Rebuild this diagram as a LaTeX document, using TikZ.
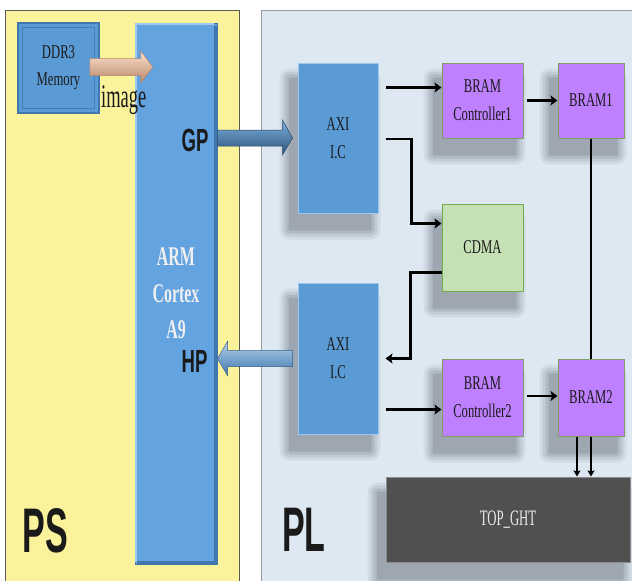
\documentclass[tikz,border=0pt]{standalone}
\usepackage{fontspec}
\usetikzlibrary{arrows.meta,calc}
\pgfdeclarelayer{bg}
\pgfsetlayers{bg,main}
\newfontfamily\boxfont[FakeStretch=0.65]{Liberation Serif}
\newfontfamily\armfont[FakeStretch=0.59]{Liberation Serif Bold}
\newfontfamily\topfont[FakeStretch=0.58]{Liberation Serif}
\newfontfamily\imgfont[FakeStretch=0.56]{Liberation Serif}
\newfontfamily\labfont[FakeStretch=0.58]{Liberation Sans Bold}
\newfontfamily\bigfont[FakeStretch=0.54]{Liberation Sans Bold}
\definecolor{psbg}{HTML}{FAF39B}
\definecolor{plbg}{HTML}{DEE8F3}
\definecolor{armblue}{HTML}{62A3E0}
\definecolor{armdark}{HTML}{3F77AE}
\definecolor{axiblue}{HTML}{5B9BD5}
\definecolor{axiedge}{HTML}{9CC8EE}
\definecolor{bramp}{HTML}{BF80FF}
\definecolor{brampedge}{HTML}{7F9F6A}
\definecolor{cdmag}{HTML}{C5E0B4}
\definecolor{cdmaedge}{HTML}{70AD47}
\definecolor{topg}{HTML}{505050}
\definecolor{ink}{HTML}{1A1A1A}
\definecolor{peachL}{HTML}{FCE2D2}
\definecolor{peachM}{HTML}{EDB08C}
\definecolor{peachD}{HTML}{B98566}
\definecolor{shadowc}{HTML}{2A323C}
\newcommand\mkshadow[1]{%
  \foreach \r/\o in {10/0.07,7/0.09,4/0.11,1/0.14}{%
    \fill[shadowc, opacity=\o, rounded corners=\r pt]
      ($(#1.north west)+(-8-\r,16-\r)$) rectangle ($(#1.south east)+(-8+\r,16+\r)$);}}
\tikzset{
  box/.style={draw, line width=1pt, inner sep=0pt, align=center,
    font=\boxfont\fontsize{19.5}{28}\selectfont, text=ink},
  conn/.style={line width=2.5pt, -{Stealth[length=7pt,width=10pt,inset=1.5pt]}},
  conn2/.style={line width=1.6pt, -{Stealth[length=6pt,width=7pt,inset=1pt]}},
  lab/.style={inner sep=0pt, font=\labfont\fontsize{32}{32}\selectfont, text=ink},
  big/.style={inner sep=0pt, font=\bigfont\fontsize{63}{63}\selectfont, text=ink},
}
\begin{document}
\begin{tikzpicture}[x=1pt,y=-1pt]
\useasboundingbox (0,0) rectangle (632,581);
\begin{pgfonlayer}{bg}
\fill[white] (0,0) rectangle (632,581);
\path[fill=psbg, draw=black!65, line width=1pt] (5,10) rectangle (239,600);
\path[fill=plbg, draw=black!40, line width=1pt] (261,10) rectangle (650,600);
\end{pgfonlayer}
% DDR3 and ARM
\node[box, fill=axiblue, draw=armdark, line width=1.5pt, minimum width=81pt, minimum height=90pt,
  font=\boxfont\fontsize{19.5}{27}\selectfont] (ddr) at (58.5,68) {DDR3\\Memory};
\draw[armdark!80!axiblue, line width=1pt] ($(ddr.north west)+(5,5)$) rectangle ($(ddr.south east)+(-5,-5)$);
\node[box, fill=armblue, draw=armdark, minimum width=82pt, minimum height=541pt,
  font=\armfont\fontsize{27}{36.5}\selectfont, text=black!6] (arm) at (176,293.5) {ARM\\Cortex\\A9};
\draw[armdark, line width=4pt] ($(arm.north east)+(-2,3)$) -- ($(arm.south east)+(-2,-2)$) -- ($(arm.south west)+(2,-2)$);
\draw[armblue!60!white, line width=2pt] ($(arm.south west)+(1,-3)$) -- ($(arm.north west)+(1,1)$) -- ($(arm.north east)+(-4,1)$);
\node[inner sep=0pt, anchor=base west, font=\imgfont\fontsize{33}{33}\selectfont, text=ink] (img) at (101,107) {image};
% DDR arrow
\coordinate (ddrtip) at ($(ddr.east)+(53,-1)$);
\shade[top color=peachL, middle color=peachM, bottom color=peachD, draw=peachD, line width=0.5pt]
  (ddrtip) -- +(-12,-16) -- +(-12,-8.5) -- +(-63,-8.5) -- +(-63,8.5) -- +(-12,8.5) -- +(-12,16) -- cycle;
% GP / HP / PS / PL labels
\node[lab] (gp) at (195,140) {GP};
\node[lab] (hp) at (194.5,361.5) {HP};
\node[big] (ps) at (45.5,531) {PS};
\node[big] (pl) at (304,530) {PL};
% PL boxes
\node[box, fill=axiblue, draw=axiedge, minimum width=80pt, minimum height=150pt] (axi1) at (338,138) {AXI\\I.C};
\node[box, fill=axiblue, draw=axiedge, minimum width=80pt, minimum height=151pt] (axi2) at (338,358.5) {AXI\\I.C};
\node[box, fill=bramp, draw=brampedge, minimum width=81pt, minimum height=75pt] (bc1) at (482.5,100.5) {BRAM\\Controller1};
\node[box, fill=bramp, draw=brampedge, minimum width=66pt, minimum height=75pt] (bram1) at (591,100.5) {BRAM1};
\node[box, fill=cdmag, draw=cdmaedge, minimum width=81pt, minimum height=87pt] (cdma) at (482.5,247.5) {CDMA};
\node[box, fill=bramp, draw=brampedge, minimum width=81pt, minimum height=77pt] (bc2) at (482.5,397.5) {BRAM\\Controller2};
\node[box, fill=bramp, draw=brampedge, minimum width=66pt, minimum height=77pt] (bram2) at (591,397.5) {BRAM2};
\node[box, fill=topg, draw=black!45, minimum width=244pt, minimum height=85pt,
  font=\topfont\fontsize{22}{22}\selectfont, text=black!8] (top) at (508,519.5) {TOP\_GHT};
\begin{pgfonlayer}{bg}
\mkshadow{axi1}\mkshadow{axi2}\mkshadow{bc1}\mkshadow{bram1}\mkshadow{cdma}\mkshadow{bc2}\mkshadow{bram2}\mkshadow{top}
\end{pgfonlayer}
% fat arrows
\coordinate (gp0) at (arm.east |- axi1.east);
\coordinate (gptip) at ($(gp0)+(75,0)$);
\shade[top color=axiblue!80!white, middle color=armdark, bottom color=armdark!70!black, draw=armdark!60!black, line width=0.5pt]
  (gptip) -- +(-10,-18) -- +(-10,-8) -- +(-75,-8) -- +(-75,8) -- +(-10,8) -- +(-10,17) -- cycle;
\coordinate (hp0) at (arm.east |- axi2.east);
\shade[top color=axiblue!45!white, middle color=axiblue, bottom color=armdark, draw=armdark!80!black, line width=0.5pt]
  (hp0) -- +(10,-17) -- +(10,-8) -- +(75,-8) -- +(75,8) -- +(10,8) -- +(10,17) -- cycle;
% connectors
\coordinate (a1) at ($(axi1.north east)+(7,25)$);
\draw[conn] (a1) -- (a1 -| bc1.west);
\coordinate (a2) at ($(axi1.east)+(7,1)$);
\coordinate (c1) at ($(cdma.north west)+(0,20)$);
\draw[conn] (a2) -- ++(26,0) |- (c1);
\coordinate (c2) at ($(cdma.south west)+(0,-19)$);
\coordinate (a3) at ($(axi2.east)+(7,0)$);
\draw[conn] (c2) -- ++(-31,0) |- (a3);
\coordinate (a4) at ($(axi2.south east)+(7,-25)$);
\draw[conn] (a4) -- (a4 -| bc2.west);
\draw[conn] ([xshift=3pt]bc1.east) -- (bram1.west);
\draw[conn] ([xshift=3pt,yshift=1.5pt]bc2.east) -- ([yshift=1.5pt]bram2.west);
\draw[line width=1.3pt] (bram1.south) -- (bram2.north);
\draw[conn2] ([xshift=-14pt]bram2.south) -- ([xshift=-14pt]bram2.south |- top.north);
\draw[conn2] (bram2.south) -- (bram2.south |- top.north);
\end{tikzpicture}
\end{document}
